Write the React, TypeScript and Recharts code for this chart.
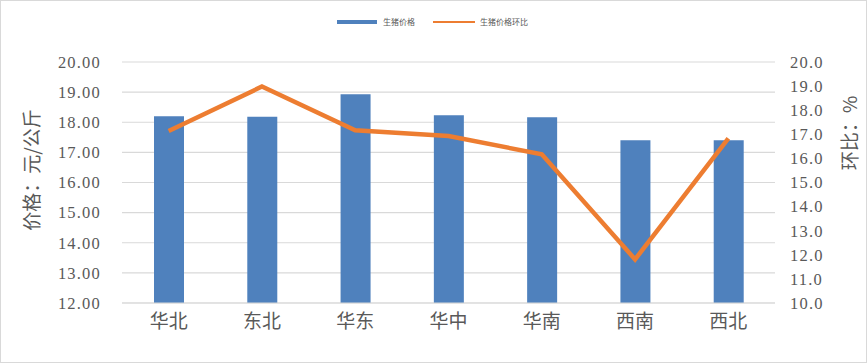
import React from "react";
import { ComposedChart, Bar, Line, XAxis, YAxis, CartesianGrid } from "recharts";

const regions = ["华北", "东北", "华东", "华中", "华南", "西南", "西北"];
const prices = [18.2, 18.18, 18.93, 18.23, 18.17, 17.4, 17.4];
const momPct = [17.14, 18.98, 17.17, 16.93, 16.17, 11.81, 16.83];
const priceTicks = [12, 13, 14, 15, 16, 17, 18, 19, 20];
const momTicks = [10, 11, 12, 13, 14, 15, 16, 17, 18, 19, 20];

const data = regions.map((name, i) => ({ name, price: prices[i], mom: momPct[i] }));

const BLUE = "#4F81BD";
const ORANGE = "#ED7D31";
const GREY_TEXT = "#595959";
const numFont = "'Liberation Serif', serif";
const cjkFont = "'Noto Sans CJK SC', sans-serif";

export default function App() {
  return (
    <div
      style={{
        position: "absolute",
        left: 0,
        top: 0,
        width: 867,
        height: 363,
        border: "1px solid #d9d9d9",
        boxSizing: "border-box",
        background: "#fff",
      }}
    >
      {/* legend */}
      <div
        style={{
          position: "absolute",
          top: 15,
          left: 336,
          display: "flex",
          alignItems: "center",
          fontFamily: cjkFont,
          fontSize: 8,
          color: GREY_TEXT,
        }}
      >
        <span style={{ display: "inline-block", width: 40, height: 4, background: BLUE, marginRight: 6 }} />
        <span style={{ marginRight: 18 }}>生猪价格</span>
        <span style={{ display: "inline-block", width: 42, height: 2, background: ORANGE, marginRight: 5 }} />
        <span>生猪价格环比</span>
      </div>
      <ComposedChart
        width={865}
        height={361}
        data={data}
        margin={{ top: 61, right: 0, bottom: 0, left: 0 }}
      >
        <CartesianGrid yAxisId="left" vertical={false} stroke="#d9d9d9" strokeWidth={1.2} />
        <XAxis
          dataKey="name"
          height={59}
          axisLine={{ stroke: "#d9d9d9" }}
          tickLine={false}
          tickSize={0}
          tickMargin={12}
          interval={0}
          tick={{ fill: GREY_TEXT, fontSize: 19, fontFamily: cjkFont }}
        />
        <YAxis
          yAxisId="left"
          width={121}
          domain={[12, 20]}
          ticks={priceTicks}
          interval={0}
          axisLine={false}
          tickLine={false}
          tickSize={0}
          tickMargin={21}
          tickFormatter={(v: number) => v.toFixed(2)}
          tick={{ fill: GREY_TEXT, fontSize: 16.5, fontFamily: numFont, letterSpacing: 1.2 }}
          label={{
            content: () => {
              const cx = 29;
              const cy = 169;
              return (
                <text
                  x={cx}
                  y={cy}
                  transform={`rotate(-90, ${cx}, ${cy})`}
                  textAnchor="middle"
                  dominantBaseline="central"
                  fill={GREY_TEXT}
                  fontSize={19}
                  fontFamily={cjkFont}
                >
                  价格：元/公斤
                </text>
              );
            },
          }}
        />
        <YAxis
          yAxisId="right"
          orientation="right"
          width={91}
          domain={[10, 20]}
          ticks={momTicks}
          interval={0}
          axisLine={false}
          tickLine={false}
          tickSize={0}
          tickMargin={15}
          tickFormatter={(v: number) => v.toFixed(1)}
          tick={{ fill: GREY_TEXT, fontSize: 16.5, fontFamily: numFont, letterSpacing: 1.2 }}
          label={{
            content: () => {
              const cx = 847;
              const cy = 132;
              return (
                <text
                  x={cx}
                  y={cy}
                  transform={`rotate(-90, ${cx}, ${cy})`}
                  textAnchor="middle"
                  dominantBaseline="central"
                  fill={GREY_TEXT}
                  fontSize={19}
                  fontFamily={cjkFont}
                >
                  环比：%
                </text>
              );
            },
          }}
        />
        <Bar yAxisId="left" dataKey="price" fill={BLUE} barSize={30} isAnimationActive={false} />
        <Line
          yAxisId="right"
          type="linear"
          dataKey="mom"
          stroke={ORANGE}
          strokeWidth={4.5}
          dot={false}
          activeDot={false}
          isAnimationActive={false}
        />
      </ComposedChart>
    </div>
  );
}
